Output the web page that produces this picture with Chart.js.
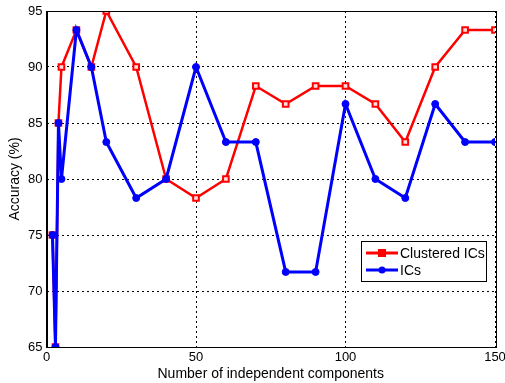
<!DOCTYPE html>
<html><head><meta charset="utf-8">
<script src="https://cdn.jsdelivr.net/npm/chart.js@4/dist/chart.umd.min.js"></script>
<style>html,body{margin:0;padding:0;background:#fff}#wrap{width:505px;height:383px;position:relative}</style>
</head><body><div id="wrap"><canvas id="c" width="505" height="383"></canvas></div>
<script>
const components = [2,3,4,5,10,15,20,30,40,50,60,70,80,90,100,110,120,130,140,150];
const clusteredICs = [75,65,85,90,93.3,90,95,90,80,78.3,80,88.3,86.7,88.3,88.3,86.7,83.3,90,93.3,93.3];
const ICs = [75,65,85,80,93.3,90,83.3,78.3,80,90,83.3,83.3,71.7,71.7,86.7,80,78.3,86.7,83.3,83.3];
const seriesNames = ["Clustered ICs","ICs"];
const xTicks = [0,50,100,150];
const yTicks = [65,70,75,80,85,90,95];

const FAM = "'Liberation Sans', Arial, sans-serif";
const TICKFONT = {family:FAM, size:13};
const TITLEFONT = {family:FAM, size:14};
const toXY = (xs, ys) => xs.map((x,i)=>({x:x,y:ys[i]}));

const boxPlugin = {
  id:'box',
  afterDatasetsDraw(chart){
    const {ctx, chartArea:a} = chart;
    ctx.save();
    ctx.strokeStyle='#000'; ctx.lineWidth=1; ctx.setLineDash([]);
    ctx.strokeRect(Math.round(a.left)+0.5, Math.round(a.top)+0.5, Math.round(a.right-a.left), Math.round(a.bottom-a.top));
    ctx.restore();
  },
  afterDraw(chart){
    const {ctx} = chart;
    const x0=361, y0=241, w=125, h=40;
    ctx.save();
    ctx.fillStyle='#fff'; ctx.fillRect(x0,y0,w,h);
    ctx.strokeStyle='#000'; ctx.lineWidth=1; ctx.strokeRect(x0+0.5,y0+0.5,w,h);
    const items=[{c:'#ff0000',t:seriesNames[0],m:'rect'},{c:'#0000ff',t:seriesNames[1],m:'circle'}];
    ctx.font="14px "+FAM;
    ctx.textBaseline='middle';
    items.forEach((it,i)=>{
      const yy=y0+12+i*17;
      ctx.strokeStyle=it.c; ctx.lineWidth=3;
      ctx.beginPath(); ctx.moveTo(x0+5,yy); ctx.lineTo(x0+37,yy); ctx.stroke();
      ctx.fillStyle=it.c;
      if(it.m==='rect'){ctx.fillRect(x0+17,yy-4,8,8);} else {ctx.beginPath();ctx.arc(x0+21,yy,3.5,0,Math.PI*2);ctx.fill();}
      ctx.fillStyle='#000'; ctx.fillText(it.t,x0+39,yy+1);
    });
    ctx.restore();
  }
};

new Chart(document.getElementById('c'),{
  type:'line',
  data:{datasets:[
    {label:seriesNames[0],data:toXY(components,clusteredICs),borderColor:'#ff0000',backgroundColor:'#ffe0e0',borderWidth:2.5,pointStyle:'rect',pointRadius:4,pointBorderWidth:2,pointBorderColor:'#ff0000',pointBackgroundColor:'#ffe0e0',tension:0,order:1},
    {label:seriesNames[1],data:toXY(components,ICs),borderColor:'#0000ff',backgroundColor:'#0000ff',borderWidth:3,pointStyle:'circle',pointRadius:3.5,pointBorderWidth:1,pointBorderColor:'#0000ff',pointBackgroundColor:'#0000ff',tension:0,order:0}
  ]},
  options:{
    responsive:false,animation:false,devicePixelRatio:1,
    layout:{padding:{left:0,right:10,top:11,bottom:0}},
    plugins:{legend:{display:false},tooltip:{enabled:false}},
    scales:{
      x:{type:'linear',min:0,max:150,
        afterBuildTicks:s=>{s.ticks=xTicks.map(v=>({value:v}));},
        afterFit:s=>{s.height=36; s.paddingLeft=0; s.paddingRight=0;},
        ticks:{color:'#000',font:TICKFONT,padding:3,maxRotation:0},
        grid:{color:'#000',lineWidth:1,drawTicks:false},
        border:{display:true,color:'#000',dash:[2,3]},
        title:{display:true,text:'Number of independent components',color:'#000',font:TITLEFONT,padding:{top:0,bottom:0}}
      },
      y:{type:'linear',min:65,max:95,
        afterBuildTicks:s=>{s.ticks=yTicks.map(v=>({value:v}));},
        afterFit:s=>{s.width=46.5; s.paddingTop=0; s.paddingBottom=0;},
        ticks:{color:'#000',font:TICKFONT,padding:4},
        grid:{color:'#000',lineWidth:1,drawTicks:false},
        border:{display:true,color:'#000',dash:[2,3]},
        title:{display:true,text:'Accuracy (%)',color:'#000',font:TITLEFONT,padding:{top:7,bottom:4}}
      }
    }
  },
  plugins:[boxPlugin]
});
</script></body></html>
